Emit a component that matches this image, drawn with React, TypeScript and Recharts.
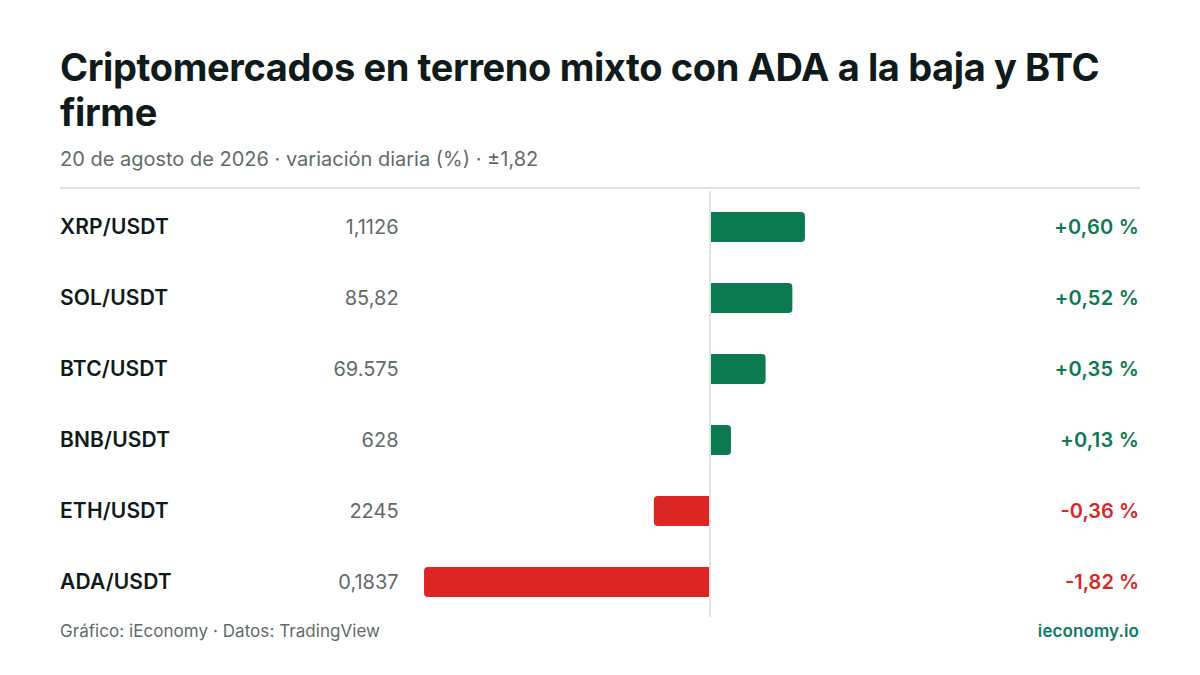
import React from "react";
import { BarChart, Bar, XAxis, YAxis, Cell, ReferenceLine } from "recharts";

const pairs = ["XRP/USDT", "SOL/USDT", "BTC/USDT", "BNB/USDT", "ETH/USDT", "ADA/USDT"];
const prices = ["1,1126", "85,82", "69.575", "628", "2245", "0,1837"];
const changes = [0.6, 0.52, 0.35, 0.13, -0.36, -1.82];
const changeLabels = ["+0,60 %", "+0,52 %", "+0,35 %", "+0,13 %", "-0,36 %", "-1,82 %"];

const data = pairs.map((pair, i) => ({ pair, price: prices[i], change: changes[i], label: changeLabels[i] }));

const GREEN = "#0c7a50";
const RED = "#dc2626";
const INK = "#0e1b1a";
const MUTED = "#5f6b69";
const RULE = "#e0e5e4";
const FONT = "Inter, sans-serif";

const RowTick = (props: any) => {
  const { y, index } = props;
  const d = data[index];
  const up = d.change >= 0;
  return (
    <g fontFamily={FONT}>
      <text x={60} y={y} dy={7.6} fontSize={21} fontWeight={600} letterSpacing={0.15} fill={INK}>{d.pair}</text>
      <text x={398.6} y={y} dy={7} fontSize={20} fill={MUTED} textAnchor="end">{d.price}</text>
      <text x={1139} y={y} dy={7} fontSize={20} fontWeight={600} letterSpacing={up ? 0.25 : 0} fill={up ? GREEN : RED} textAnchor="end">{d.label}</text>
    </g>
  );
};

export default function App() {
  return (
    <div style={{ position: "absolute", left: 0, top: 0, width: 1200, height: 675, background: "#fff", fontFamily: FONT, overflow: "hidden" }}>
      <div style={{ position: "absolute", left: 60, top: 45.3, width: 1080, fontSize: 38, lineHeight: "45px", fontWeight: 700, color: INK, letterSpacing: "-0.38px" }}>
        Criptomercados en terreno mixto con ADA a la baja y BTC firme
      </div>
      <div style={{ position: "absolute", left: 60, top: 147, fontSize: 20, lineHeight: "24px", color: MUTED }}>
        20 de agosto de 2026 · variación diaria (%) · ±1,82
      </div>
      <div style={{ position: "absolute", left: 60, top: 187, width: 1080, height: 2, background: RULE }} />
      <div style={{ position: "absolute", left: 0, top: 0 }}>
        <BarChart width={1200} height={675} data={data} layout="vertical" barCategoryGap={0}
          margin={{ top: 191, bottom: 58, left: 0, right: 203.03 }}>
          <XAxis type="number" domain={[-1.82, 1.82]} hide />
          <YAxis type="category" dataKey="pair" width={424.03} axisLine={false} tickLine={false} tick={RowTick} interval={0} />
          <Bar dataKey="change" barSize={30} radius={[0, 4, 4, 0]} isAnimationActive={false}>
            {data.map((d) => (
              <Cell key={d.pair} fill={d.change >= 0 ? GREEN : RED} />
            ))}
          </Bar>
          <ReferenceLine x={-0.0032} stroke={RULE} strokeWidth={2} />
        </BarChart>
      </div>
      <div style={{ position: "absolute", left: 60, top: 621, fontSize: 17, lineHeight: "20px", letterSpacing: "0.05px", color: MUTED }}>
        Gráfico: iEconomy · Datos: TradingView
      </div>
      <div style={{ position: "absolute", right: 61, top: 621, fontSize: 17, lineHeight: "20px", letterSpacing: "0.1px", fontWeight: 600, color: "#0d7a68" }}>
        ieconomy.io
      </div>
    </div>
  );
}
